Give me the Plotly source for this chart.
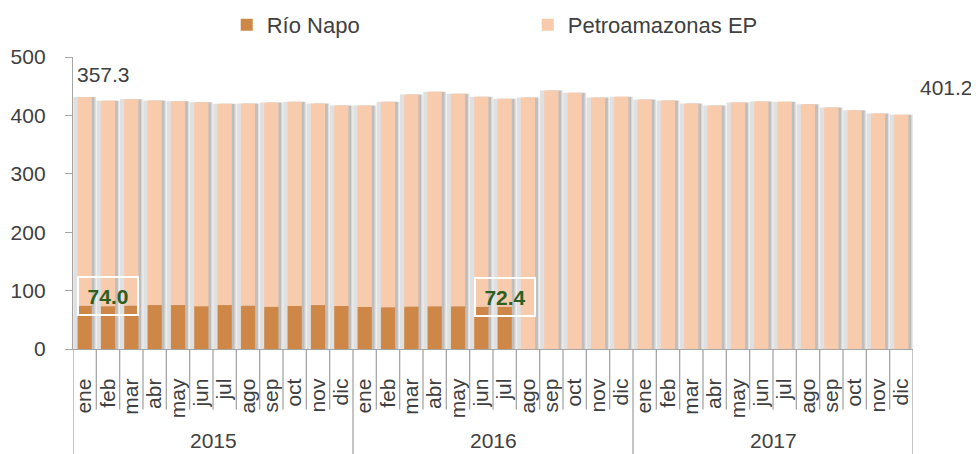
import plotly.graph_objects as go

years = ["2015", "2016", "2017"]
months = ["ene", "feb", "mar", "abr", "may", "jun", "jul", "ago", "sep", "oct", "nov", "dic"]

# Totals (Río Napo + Petroamazonas EP), miles de barriles diarios
total = [431.3, 425.0, 427.7, 425.5, 424.3, 422.6, 419.9, 420.4, 422.1, 423.3, 420.4, 417.0,
         417.0, 423.3, 435.8, 440.4, 437.0, 431.8, 428.4, 430.7, 442.6, 438.7, 430.7, 431.8,
         427.2, 425.5, 420.4, 417.0, 422.1, 423.8, 423.3, 419.2, 413.5, 408.9, 403.3, 401.2]
rio_napo = [74.0, 73.4, 74.3, 75.2, 75.2, 73.4, 75.2, 74.3, 72.4, 73.8, 75.2, 73.8,
            72.0, 71.6, 72.8, 73.2, 73.2, 72.4, 72.4] + [0.0] * 17
petro = [round(t - r, 1) for t, r in zip(total, rio_napo)]
petro[0] = 357.3
petro[-1] = 401.2

cats = [f"{m} {y}" for y in years for m in months]
n = len(cats)

FONT = "Liberation Sans, Arial, sans-serif"
TXT = "#404040"
C_RN = "#CF8748"
C_PE = "#F8CBAD"
AX = "#A6A6A6"

W = 0.61
fig = go.Figure()
# soft shadows behind the bars
fig.add_trace(go.Bar(x=cats, y=total, base=0, width=0.98, offset=-0.49,
                     marker=dict(color="rgba(0,0,0,0.12)", line=dict(width=0)),
                     showlegend=False, hoverinfo="skip"))
fig.add_trace(go.Bar(x=cats, y=total, base=0, width=W, offset=-W / 2 + 0.12,
                     marker=dict(color="rgba(0,0,0,0.15)", line=dict(width=0)),
                     showlegend=False, hoverinfo="skip"))
fig.add_trace(go.Bar(x=cats, y=rio_napo, base=0, width=W, offset=-W / 2, name="Río Napo",
                     marker=dict(color=C_RN, line=dict(width=0))))
fig.add_trace(go.Bar(x=cats, y=petro, base=rio_napo, width=W, offset=-W / 2,
                     name="Petroamazonas EP", marker=dict(color=C_PE, line=dict(width=0))))

# page body has an 8px margin: figure occupies (8,8)-(979,454) of the window
OFF = 8
FW, FH = 979 - OFF, 454 - OFF
L, R, T, B = 73 - OFF, 66, 57 - OFF, 104.5
H = FH - T - B


def py(px):
    return (349.5 - px) / H


shapes = []
for i in range(n + 1):
    is_year = i % 12 == 0
    shapes.append(dict(type="line", xref="x", yref="paper", x0=i - 0.5, x1=i - 0.5,
                       y0=0, y1=py(456) if is_year else py(410),
                       line=dict(color=AX, width=1.3)))

annotations = []
for k, y in enumerate(years):
    annotations.append(dict(x=12 * k + 5.5, y=py(441), xref="x", yref="paper", text=y,
                            yanchor="middle", showarrow=False,
                            font=dict(size=21, color=TXT, family=FONT)))
annotations.append(dict(x=-0.5, y=py(75), xref="x", yref="paper", text="357.3",
                        xanchor="left", yanchor="middle", xshift=2, showarrow=False,
                        font=dict(size=21, color=TXT, family=FONT)))
annotations.append(dict(x=n - 0.5, y=py(88), xref="x", yref="paper", text="401.2",
                        xanchor="left", yanchor="middle", xshift=5, showarrow=False,
                        font=dict(size=21, color=TXT, family=FONT)))
annotations.append(dict(x=1, y=py(296), xref="x", yref="paper", text="<b>74.0</b>",
                        yanchor="middle", showarrow=False, bordercolor="white", borderwidth=2,
                        borderpad=2, width=54, height=32,
                        font=dict(size=21, color="#2F5F1F", family=FONT)))
annotations.append(dict(x=18, y=py(297), xref="x", yref="paper", text="<b>72.4</b>",
                        yanchor="middle", showarrow=False, bordercolor="white", borderwidth=2,
                        borderpad=2, width=54, height=32,
                        font=dict(size=21, color="#2F5F1F", family=FONT)))

fig.update_layout(
    width=FW, height=FH,
    margin=dict(l=L, r=R, t=T, b=B, autoexpand=False),
    barmode="overlay",
    paper_bgcolor="white", plot_bgcolor="white",
    font=dict(family=FONT, color=TXT, size=21),
    legend=dict(orientation="h", x=0.183, xanchor="left", y=1 - (25 - OFF) / FH,
                yref="container", yanchor="middle",
                font=dict(size=22, color=TXT, family=FONT), entrywidth=256,
                bgcolor="rgba(0,0,0,0)"),
    shapes=shapes,
    annotations=annotations,
    xaxis=dict(type="category", range=[-0.5, n - 0.5], tickvals=cats,
               ticktext=[m for y in years for m in months], tickangle=-90,
               ticks="", showline=True, linecolor=AX, linewidth=1.3, showgrid=False,
               automargin=False, ticklabelstandoff=20,
               tickfont=dict(size=21, color=TXT, family=FONT)),
    yaxis=dict(range=[0, 500], tickvals=[0, 100, 200, 300, 400, 500], ticks="outside",
               ticklen=7, tickcolor=AX, showline=True, linecolor=AX, linewidth=1.3,
               showgrid=False, zeroline=False, automargin=False, ticklabelstandoff=15,
               tickfont=dict(size=21, color=TXT, family=FONT)),
)

fig.write_html("out.html")
